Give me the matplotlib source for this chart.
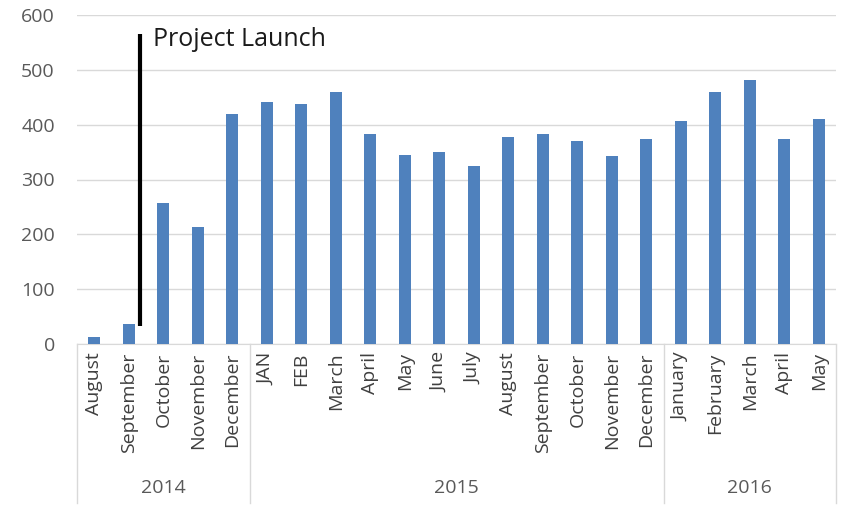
import matplotlib
matplotlib.use("Agg")
import matplotlib.pyplot as plt
import matplotlib.transforms as mtransforms

months = ["August", "September", "October", "November", "December",
          "JAN", "FEB", "March", "April", "May", "June", "July", "August",
          "September", "October", "November", "December",
          "January", "February", "March", "April", "May"]
values = [13, 36, 258, 213, 419,
          441, 438, 459, 383, 344, 351, 324, 377, 383, 371, 343, 374,
          407, 459, 481, 374, 411]
years = ["2014", "2015", "2016"]
year_counts = [5, 12, 5]
launch_label = "Project Launch"
launch_range = [33, 566]

plt.rcParams['font.family'] = ['Open Sans', 'DejaVu Sans']

fig = plt.figure(figsize=(8.46, 5.12), dpi=100)
ax = fig.add_axes([77/846, 1 - 344/512, (836-77)/846, (344-15)/512])

x = list(range(len(values)))
ax.bar(x, values, width=0.36, color="#4F81BD", zorder=3)

ax.set_ylim(0, 600)
ax.set_xlim(-0.5, len(values) - 0.5)
ax.set_yticks(range(0, 601, 100))
ax.yaxis.grid(True, color="#D9D9D9", linewidth=1, zorder=0)
for s in ["left", "right", "top"]:
    ax.spines[s].set_visible(False)
ax.spines["bottom"].set_color("#D9D9D9")
ax.tick_params(axis="y", length=0, labelsize=14, labelcolor="#595959", pad=16)
ax.set_xticks(x)
ax.set_xticklabels(months, rotation=90, fontsize=14, color="#404040", va="top")
ax.tick_params(axis="x", length=0, pad=6)

# annotation
lx = 1.34
ax.plot([lx, lx], launch_range, color="black", linewidth=3, zorder=4, solid_capstyle="butt")
ax.text(lx + 0.35, 556, launch_label, fontsize=18, color="#1a1a1a", va="center", ha="left")

# multi-level category separators and year labels
trans = mtransforms.blended_transform_factory(ax.transData, ax.transAxes)
bottom = -(503 - 344) / 329
start = -0.5
bounds = [start]
for c in year_counts:
    bounds.append(bounds[-1] + c)
for b in bounds:
    ax.plot([b, b], [0, bottom], color="#D9D9D9", linewidth=1, transform=trans, clip_on=False)
for i, yr in enumerate(years):
    ax.text((bounds[i] + bounds[i+1]) / 2, -(488 - 344) / 329, yr, transform=trans,
            ha="center", va="center", fontsize=14, color="#595959")

fig.savefig("out.png", dpi=100)
